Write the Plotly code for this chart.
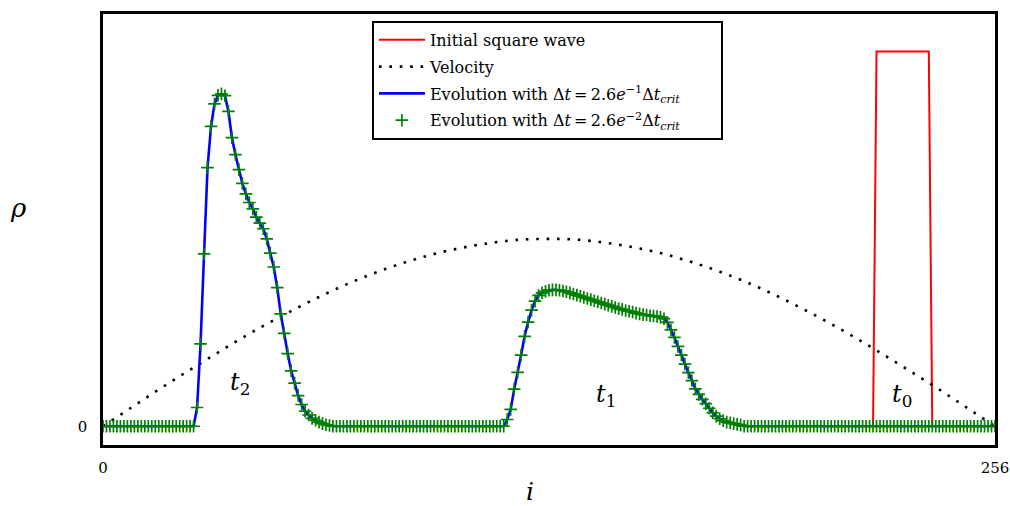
import plotly.graph_objects as go

# ---------------- data ----------------
N_POINTS = 257                      # grid i = 0 .. 256
grid_i = list(range(N_POINTS))

# initial square wave (t0)
square_start = 222
square_end = 237
square_height = 1.0

# velocity profile, sampled every 8 cells
vel_i = [0, 8, 16, 24, 32, 40, 48, 56, 64, 72, 80, 88, 96, 104, 112, 120, 128,
         136, 144, 152, 160, 168, 176, 184, 192, 200, 208, 216, 224, 232, 240, 248, 256]
vel_v = [0.0, 0.049, 0.098, 0.145, 0.191, 0.236, 0.278, 0.317, 0.354, 0.387, 0.416,
         0.441, 0.462, 0.478, 0.490, 0.498, 0.500, 0.498, 0.490, 0.478, 0.462, 0.441,
         0.416, 0.387, 0.354, 0.317, 0.278, 0.236, 0.191, 0.145, 0.098, 0.049, 0.0]

# evolved pulse at t2 (left), starting at cell 26
t2_start = 26
t2_vals = [0.0, 0.05, 0.22, 0.46, 0.69, 0.80, 0.86, 0.883, 0.887, 0.882, 0.84, 0.77,
           0.725, 0.685, 0.648, 0.62, 0.597, 0.58, 0.558, 0.542, 0.527, 0.50, 0.462,
           0.425, 0.37, 0.30, 0.248, 0.194, 0.148, 0.115, 0.082, 0.058, 0.040, 0.030,
           0.021, 0.016, 0.011, 0.007, 0.004, 0.002, 0.0]

# evolved pulse at t1 (middle), starting at cell 115
t1_start = 115
t1_vals = [0.0, 0.018, 0.045, 0.099, 0.144, 0.19, 0.24, 0.278, 0.31, 0.334, 0.349,
           0.356, 0.36, 0.363, 0.364, 0.364, 0.363, 0.361, 0.359, 0.356, 0.353, 0.35,
           0.347, 0.344, 0.341, 0.338, 0.335, 0.332, 0.329, 0.326, 0.323, 0.320, 0.317,
           0.314, 0.312, 0.309, 0.307, 0.305, 0.302, 0.300, 0.298, 0.297, 0.295, 0.294,
           0.293, 0.291, 0.287, 0.277, 0.257, 0.237, 0.213, 0.19, 0.166, 0.143, 0.122,
           0.10, 0.085, 0.072, 0.06, 0.048, 0.036, 0.027, 0.02, 0.015, 0.011, 0.009,
           0.007, 0.005, 0.003, 0.0]

labels_t = [("<i>t</i><sub>2</sub>", 39.4, 0.115),
            ("<i>t</i><sub>1</sub>", 144.5, 0.083),
            ("<i>t</i><sub>0</sub>", 229.4, 0.083)]

# ---------------- build series ----------------
square = [0.0] * N_POINTS
for k in range(square_start, square_end + 1):
    square[k] = square_height
sq_x = grid_i[square_start - 1:square_end + 2]
sq_y = square[square_start - 1:square_end + 2]

evolved = [0.0] * N_POINTS
for k, v in enumerate(t2_vals):
    evolved[t2_start + k] = v
for k, v in enumerate(t1_vals):
    evolved[t1_start + k] = v

SERIF = "DejaVu Serif"
EQ = "\u2009=\u2009"
PAD = "\u2003\u2003\u2009"

fig = go.Figure()
fig.add_trace(go.Scatter(x=sq_x, y=sq_y, mode="lines",
                         line=dict(color="#ff0000", width=2),
                         legendgroup="a", name="Initial square wave"))
fig.add_trace(go.Scatter(x=vel_i, y=vel_v, mode="lines", line_shape="spline",
                         line=dict(color="black", width=2.6, dash="2.6px,7.8px"),
                         legendgroup="b", name="Velocity"))
fig.add_trace(go.Scatter(x=grid_i, y=evolved, mode="lines",
                         line=dict(color="#0000ff", width=2.6, simplify=False),
                         legendgroup="c",
                         name="Evolution with Δ<i>t</i>" + EQ + "2.6<i>e</i><sup>−1</sup>Δ<i>t</i><sub><i>crit</i></sub>" + PAD))
fig.add_trace(go.Scatter(x=grid_i, y=evolved, mode="markers",
                         marker=dict(symbol="cross-thin", size=9,
                                     line=dict(color="#008000", width=1.7)),
                         legendgroup="d",
                         name="Evolution with Δ<i>t</i>" + EQ + "2.6<i>e</i><sup>−2</sup>Δ<i>t</i><sub><i>crit</i></sub>" + PAD))

for txt, xi, yv in labels_t:
    fig.add_annotation(x=xi, y=yv, text=txt, showarrow=False,
                       font=dict(family=SERIF, size=24, color="black"))

fig.add_annotation(xref="paper", yref="paper", x=-0.095, y=0.55, text="<i>ρ</i>",
                   xanchor="center", yanchor="middle",
                   showarrow=False, font=dict(family=SERIF, size=26, color="black"))
fig.add_annotation(xref="paper", yref="paper", x=0.479, y=-0.108, text="<i>i</i>",
                   xanchor="center", yanchor="middle",
                   showarrow=False, font=dict(family=SERIF, size=25, color="black"))

axis_common = dict(showgrid=False, zeroline=False, showline=True, mirror=True,
                   linecolor="black", linewidth=2.6, ticks="", automargin=False,
                   ticklabeloverflow="allow",
                   tickfont=dict(family=SERIF, size=15, color="black"))

fig.update_layout(
    width=1010, height=506,
    margin=dict(l=103, r=15, t=14, b=61),
    paper_bgcolor="white", plot_bgcolor="white",
    font=dict(family=SERIF, size=15, color="black"),
    showlegend=True,
    legend=dict(x=0.3015, y=0.984, xanchor="left", yanchor="top",
                bgcolor="white", bordercolor="black", borderwidth=2,
                tracegroupgap=3, itemwidth=46,
                font=dict(family=SERIF, size=16, color="black")),
    xaxis=dict(range=[0, 256], tickvals=[0, 256], ticktext=["0", "256"],
               ticklabelstandoff=7, **axis_common),
    yaxis=dict(range=[-0.05, 1.1], tickvals=[0], ticktext=["0"],
               ticklabelstandoff=10, **axis_common),
)

fig.write_html("out.html")
